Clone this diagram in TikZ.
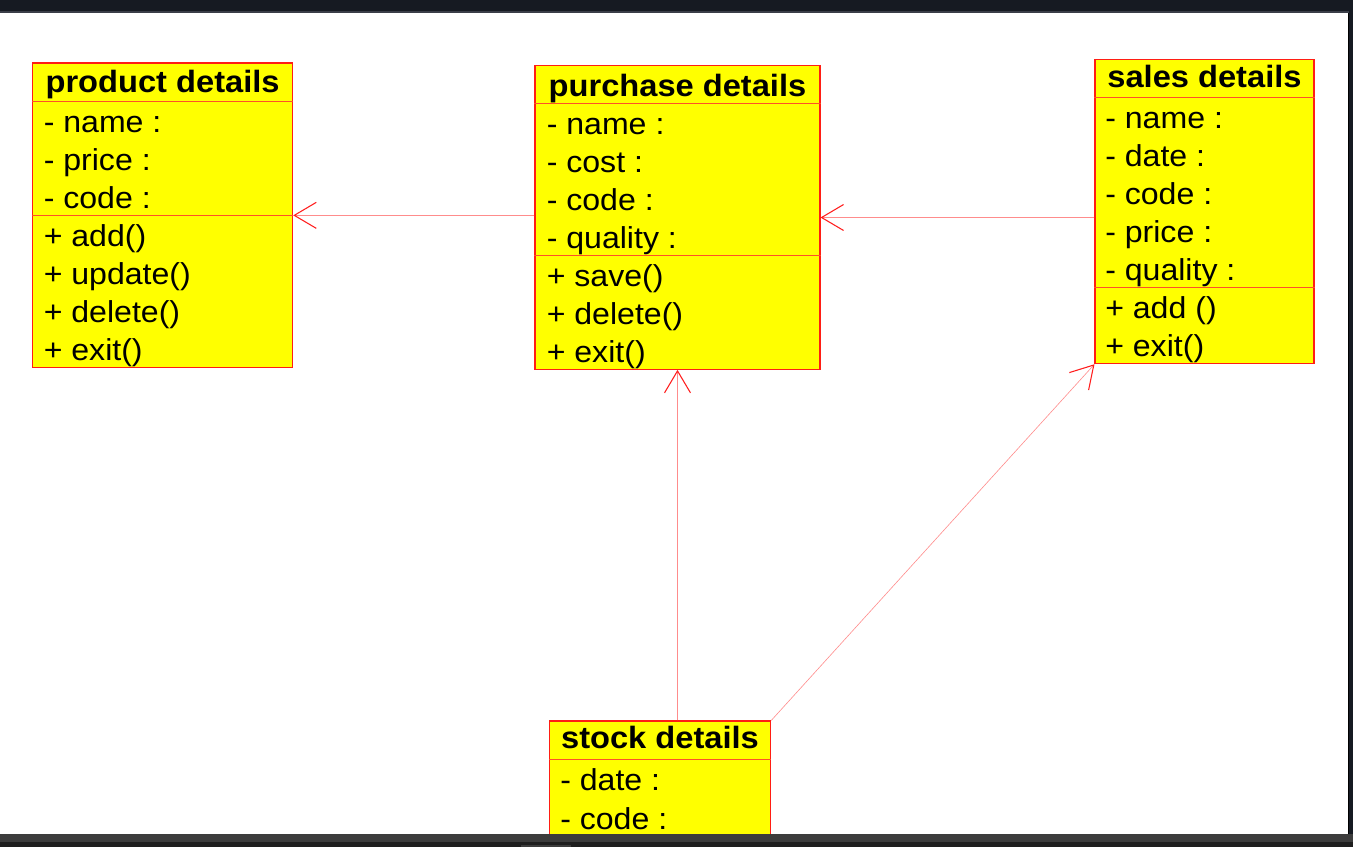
\documentclass[tikz,border=0pt]{standalone}
\usepackage{fontspec}
\setmainfont[FakeStretch=1.06]{Liberation Sans}
\usetikzlibrary{arrows.meta,fit}
\definecolor{boxred}{RGB}{255,30,20}
\definecolor{boxfill}{RGB}{255,255,0}
\definecolor{seporange}{RGB}{255,80,40}
\definecolor{connpink}{RGB}{255,140,140}
\definecolor{arrowred}{RGB}{255,30,30}
\definecolor{topbar}{RGB}{22,26,34}
\definecolor{topline}{RGB}{58,62,72}
\definecolor{botgrey}{RGB}{60,60,60}
\definecolor{botdark}{RGB}{30,30,30}
\begin{document}
\begin{tikzpicture}[x=0.75pt,y=-0.75pt,
  box/.style={draw=boxred, fill=boxfill, line width=0.8pt, inner sep=0pt},
  sepline/.style={draw=seporange, line width=0.7pt},
  title/.style={anchor=base, inner sep=0pt, font=\fontsize{23.1pt}{27pt}\selectfont\bfseries},
  member/.style={anchor=base west, inner sep=0pt, font=\fontsize{22.7pt}{27pt}\selectfont},
  conn/.style={draw=connpink, line width=0.45pt,
    -{Straight Barb[length=16.5pt,width=19.5pt,line width=0.8pt,color=arrowred]}}]
\useasboundingbox (0,0) rectangle (1353,847);
\fill[white] (0,0) rectangle (1353,847);

% ---------- product details ----------
\coordinate (pA) at (32.5,63);
\coordinate (pB) at (292.7,367.7);
\node[box, fit=(pA)(pB)] (product) {};
\draw[sepline] (product.west |- 0,101.7) -- (product.east |- 0,101.7);
\draw[sepline] (product.west |- 0,215.7) -- (product.east |- 0,215.7);
\node[title] (productT) at (162.6,92.2) {product details};
\node[member] (p1) at (43.5,132.7) {- name :};
\node[member] (p2) at (43.5,170.7) {- price :};
\node[member] (p3) at (43.5,208.7) {- code :};
\node[member] (p4) at (43.5,246.7) {+ add()};
\node[member] (p5) at (43.5,284.7) {+ update()};
\node[member] (p6) at (43.5,322.7) {+ delete()};
\node[member] (p7) at (43.5,360.7) {+ exit()};

% ---------- purchase details ----------
\coordinate (uA) at (535,65.7);
\coordinate (uB) at (820,369.3);
\node[box, fit=(uA)(uB)] (purchase) {};
\draw[sepline] (purchase.west |- 0,103.3) -- (purchase.east |- 0,103.3);
\draw[sepline] (purchase.west |- 0,255.7) -- (purchase.east |- 0,255.7);
\node[title] (purchaseT) at (677.5,96) {purchase details};
\node[member] (u1) at (546.5,134.3) {- name :};
\node[member] (u2) at (546.5,172.3) {- cost :};
\node[member] (u3) at (546.5,210.3) {- code :};
\node[member] (u4) at (546.5,248.3) {- quality :};
\node[member] (u5) at (546.5,286.3) {+ save()};
\node[member] (u6) at (546.5,324.3) {+ delete()};
\node[member] (u7) at (546.5,362.3) {+ exit()};

% ---------- sales details ----------
\coordinate (sA) at (1095,59.3);
\coordinate (sB) at (1314,363.7);
\node[box, fit=(sA)(sB)] (sales) {};
\draw[sepline] (sales.west |- 0,97.7) -- (sales.east |- 0,97.7);
\draw[sepline] (sales.west |- 0,287.7) -- (sales.east |- 0,287.7);
\node[title] (salesT) at (1204.5,87) {sales details};
\node[member] (s1) at (1105,128) {- name :};
\node[member] (s2) at (1105,166) {- date :};
\node[member] (s3) at (1105,204) {- code :};
\node[member] (s4) at (1105,242) {- price :};
\node[member] (s5) at (1105,280) {- quality :};
\node[member] (s6) at (1105,318) {+ add ()};
\node[member] (s7) at (1105,356) {+ exit()};

% ---------- stock details ----------
\coordinate (kA) at (549.3,721);
\coordinate (kB) at (770.7,838);
\node[box, fit=(kA)(kB)] (stock) {};
\draw[sepline] (stock.west |- 0,759) -- (stock.east |- 0,759);
\node[title] (stockT) at (660,748.5) {stock details};
\node[member] (k1) at (560,790) {- date :};
\node[member] (k2) at (560,829.5) {- code :};

% ---------- connectors ----------
\draw[conn] (purchase.west |- product.east) -- (product.east);
\draw[conn] (sales.west |- purchase.east) -- (purchase.east);
\draw[conn] (stock.north -| purchase.south) -- (purchase.south);
\draw[conn] (stock.north east) -- (sales.south west);

% ---------- window frame ----------
\fill[topbar] (0,0) rectangle (1353,11);
\fill[topline] (0,11) rectangle (1353,12.5);
\fill[black] (1347.5,12.5) rectangle (1348.5,847);
\fill[topbar] (1348.5,0) rectangle (1353,847);
\fill[botgrey] (0,833.7) rectangle (1353,841.7);
\fill[botdark] (0,841.7) rectangle (1353,847);
\fill[botgrey] (521,845) rectangle (571,847);
\end{tikzpicture}
\end{document}
